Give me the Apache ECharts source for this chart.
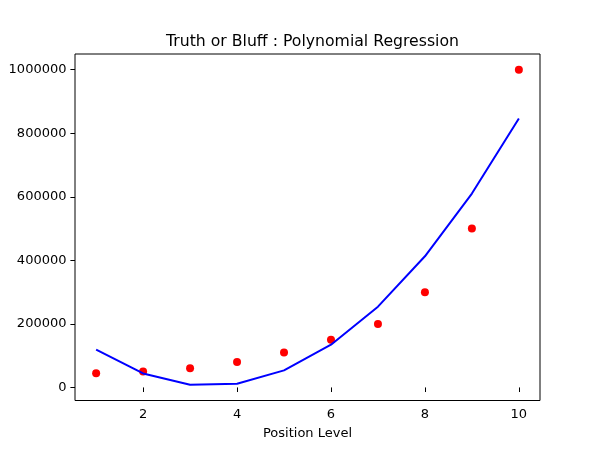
<!DOCTYPE html>
<html>
<head>
<meta charset="utf-8">
<script src="https://cdn.jsdelivr.net/npm/echarts@6/dist/echarts.min.js"></script>
<style>html,body{margin:0;padding:0;background:#fff;}#c{width:600px;height:450px;}</style>
</head>
<body>
<div id="c"></div>
<script>
const levels = [1, 2, 3, 4, 5, 6, 7, 8, 9, 10];
const salaries = [45000, 50000, 60000, 80000, 110000, 150000, 200000, 300000, 500000, 1000000];
const predicted = [118727, 44151, 8439, 11591, 53606, 134485, 254227, 412833, 610303, 846636];
const xTicks = [2, 4, 6, 8, 10];
const yTicks = [0, 200000, 400000, 600000, 800000, 1000000];

const F = 'DejaVu Sans';
const chart = echarts.init(document.getElementById('c'), null, {renderer: 'canvas'});
chart.setOption({
  animation: false,
  backgroundColor: '#fff',
  title: {
    text: 'Truth or Bluff : Polynomial Regression',
    left: 307.5, textAlign: 'center', top: 29,
    textStyle: {fontFamily: F, fontSize: 15.7, fontWeight: 'normal', color: '#000'}
  },
  grid: {left: 75, right: 60, top: 54, bottom: 49.5, containLabel: false, outerBoundsMode: 'none',
    show: true, borderColor: '#000', borderWidth: 1, backgroundColor: 'transparent'},
  xAxis: {
    type: 'value', min: 0.55, max: 10.45,
    name: 'Position Level', nameLocation: 'middle', nameGap: 27,
    nameTextStyle: {fontFamily: F, fontSize: 13, color: '#000'},
    axisLine: {show: false},
    axisTick: {show: true, length: 4.6, inside: false, customValues: xTicks, lineStyle: {color: '#000', width: 1}},
    axisLabel: {customValues: xTicks, margin: 8, fontFamily: F, fontSize: 13, color: '#000', formatter: v => String(v)},
    splitLine: {show: false}
  },
  yAxis: {
    type: 'value', min: -41139, max: 1049578,
    name: 'Salary', nameLocation: 'middle', nameGap: 72,
    nameTextStyle: {fontFamily: F, fontSize: 13, color: '#000'},
    axisLine: {show: false},
    axisTick: {show: true, length: 4.6, inside: false, customValues: yTicks, lineStyle: {color: '#000', width: 1}},
    axisLabel: {customValues: yTicks, margin: 8.5, fontFamily: F, fontSize: 13, color: '#000', formatter: v => String(v)},
    splitLine: {show: false}
  },
  series: [
    {
      type: 'scatter', data: levels.map((x, i) => [x, salaries[i]]),
      symbol: 'circle', symbolSize: 8, itemStyle: {color: '#ff0000', opacity: 1}, z: 2
    },
    {
      type: 'line', data: levels.map((x, i) => [x, predicted[i]]),
      showSymbol: false, symbol: 'none', lineStyle: {color: '#0000ff', width: 2}, z: 3
    }
  ]
});
</script>
</body>
</html>
